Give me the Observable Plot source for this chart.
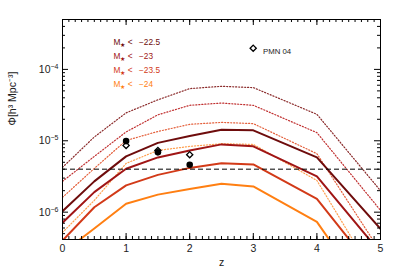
<!DOCTYPE html>
<html><head><meta charset="utf-8">
<script src="https://cdn.jsdelivr.net/npm/d3@7"></script>
<script src="https://cdn.jsdelivr.net/npm/@observablehq/plot@0.6"></script>
<style>body{margin:0;background:#fff}#chart{width:399px;height:279px}</style>
</head><body><div id="chart"></div>
<script>
// ---- data ----
const redshifts = [0, 0.5, 1, 1.5, 2, 2.5, 3, 4, 5];
const seriesLabels = ["M★ < −22.5", "M★ < −23", "M★ < −23.5", "M★ < −24"];
const seriesColors = ["#6e0c0c", "#a01515", "#d23a18", "#ff7f12"];
const dottedColors = ["#8a2a2a", "#c03030", "#e4603c", "#ffa050"];
const solid1 = [1.03e-6, 2.70e-6, 6.04e-6, 9.35e-6, 1.17e-5, 1.43e-5, 1.40e-5, 5.85e-6, 5.85e-7];
const solid2 = [7.1e-7, 1.91e-6, 4.06e-6, 5.85e-6, 7.33e-6, 8.9e-6, 8.35e-6, 3.17e-6, 2.7e-7];
const solid3 = [4.0e-7, 1.17e-6, 2.37e-6, 3.33e-6, 4.17e-6, 4.86e-6, 4.67e-6, 1.53e-6, 1.17e-7];
const solid4 = [2.7e-7, 5.9e-7, 1.31e-6, 1.76e-6, 2.11e-6, 2.5e-6, 2.29e-6, 7.3e-7, 3.9e-8];
const dotted1 = [4.24e-6, 1.13e-5, 2.46e-5, 3.75e-5, 5.38e-5, 5.8e-5, 5.56e-5, 2.35e-5, 2.0e-6];
const dotted2 = [2.7e-6, 6.04e-6, 1.33e-5, 2.31e-5, 3.14e-5, 3.38e-5, 3.14e-5, 1.30e-5, 1.06e-6];
const dotted3 = [1.61e-6, 4.1e-6, 1.01e-5, 1.35e-5, 1.70e-5, 1.81e-5, 1.74e-5, 6.59e-6, 2.8e-7];
const dotted4 = [5.2e-7, 1.46e-6, 4.82e-6, 7.33e-6, 8.34e-6, 9.1e-6, 8.9e-6, 2.78e-6, 9.4e-8];
const obsZ = [1, 1.5, 2];
const obsFilled = [9.9e-6, 6.88e-6, 4.62e-6];
const obsPMN04 = [8.62e-6, 7.3e-6, 6.38e-6];
const threshold = 4e-6;
const xTickLabels = [0, 1, 2, 3, 4, 5];
const yTickExps = [-6, -5, -4];
const pmnLabel = "PMN 04";
const xLabel = "z";
const yLabel = "Φ[h³ Mpc⁻³]";

// ---- layout ----
const W = 399, H = 279, mL = 62, mR = 19, mT = 19, mB = 40;
const pw = W - mL - mR, ph = H - mT - mB;
const solids = [solid1, solid2, solid3, solid4];
const dotteds = [dotted1, dotted2, dotted3, dotted4];
const toRows = arr => redshifts.map((z, i) => ({z, phi: arr[i]}));
const sup = s => String(s).replace(/-/g, "−").replace(/\d/g, d => d);

const xMinor = d3.range(0, 51).map(i => i / 10);
const yMinor = [];
for (let e = -7; e <= -4; e++) for (let m = 2; m <= 9; m++) { const v = m * 10 ** e; if (v > 4.14e-7 && v < 5e-4) yMinor.push(v); }
const yMajor = yTickExps.map(e => 10 ** e);

const marks = [];
dotteds.forEach((d, i) => marks.push(Plot.line(toRows(d), {x: "z", y: "phi", stroke: dottedColors[i], strokeWidth: 1.2, strokeDasharray: "1.1,1.9", clip: true})));
solids.forEach((d, i) => marks.push(Plot.line(toRows(d), {x: "z", y: "phi", stroke: seriesColors[i], strokeWidth: 2, clip: true})));
marks.push(Plot.ruleY([threshold], {stroke: "#000", strokeWidth: 1, strokeDasharray: "5,3"}));
marks.push(Plot.dot(obsZ.map((z, i) => ({z, phi: obsPMN04[i]})), {x: "z", y: "phi", symbol: "diamond2", r: 2.8, stroke: "#000", strokeWidth: 1.3, fill: "white"}));
marks.push(Plot.dot(obsZ.map((z, i) => ({z, phi: obsFilled[i]})), {x: "z", y: "phi", r: 3.3, fill: "#000"}));
// ticks (inward, IDL style)
marks.push(Plot.ruleX(xMinor, {x: d => d, insetTop: ph - 3, stroke: "#000"}));
marks.push(Plot.ruleX(xMinor, {x: d => d, insetBottom: ph - 3, stroke: "#000"}));
marks.push(Plot.ruleX(xTickLabels, {x: d => d, insetTop: ph - 6, stroke: "#000"}));
marks.push(Plot.ruleX(xTickLabels, {x: d => d, insetBottom: ph - 6, stroke: "#000"}));
marks.push(Plot.ruleY(yMinor, {y: d => d, insetRight: pw - 3, stroke: "#000"}));
marks.push(Plot.ruleY(yMinor, {y: d => d, insetLeft: pw - 3, stroke: "#000"}));
marks.push(Plot.ruleY(yMajor, {y: d => d, insetRight: pw - 6, stroke: "#000"}));
marks.push(Plot.ruleY(yMajor, {y: d => d, insetLeft: pw - 6, stroke: "#000"}));
marks.push(Plot.frame({stroke: "#000", strokeWidth: 1}));
// tick labels
marks.push(Plot.text(xTickLabels, {x: d => d, frameAnchor: "bottom", dy: 12, text: d => String(d), fontSize: 10.5, fill: "#222"}));
marks.push(Plot.text(yTickExps, {y: d => 10 ** d, frameAnchor: "left", dx: -4, textAnchor: "end", text: d => "10^" + sup(d), fontSize: 10.5, fill: "#222", className: "ylab"}));
marks.push(Plot.text([xLabel], {frameAnchor: "bottom", dy: 26, text: d => d, fontSize: 10.5, fill: "#222"}));
marks.push(Plot.text([yLabel], {frameAnchor: "left", dx: -50, dy: -4, rotate: -90, text: d => d, fontSize: 10.5, fill: "#222"}));
// legend
seriesLabels.forEach((lab, i) => marks.push(Plot.text([lab], {frameAnchor: "top-left", dx: 51, dy: 19.3 + i * 14.1, textAnchor: "start", text: d => d, fontSize: 8.3, fill: seriesColors[i]})));
marks.push(Plot.dot([0], {frameAnchor: "top-left", dx: 190.7, dy: 28.7, symbol: "diamond2", r: 2.8, stroke: "#000", strokeWidth: 1.3, fill: "white"}));
marks.push(Plot.text([pmnLabel], {frameAnchor: "top-left", dx: 200.5, dy: 28.7, textAnchor: "start", text: d => d, fontSize: 7.8, fill: "#222"}));

const chart = Plot.plot({
  width: W, height: H, marginLeft: mL, marginRight: mR, marginTop: mT, marginBottom: mB,
  style: {fontFamily: "'Liberation Sans', Arial, sans-serif", background: "white", overflow: "visible"},
  x: {domain: [0, 5], axis: null},
  y: {type: "log", domain: [4.14e-7, 5e-4], axis: null},
  marks
});
// subscript star in legend, superscript exponents on y labels
d3.select(chart).selectAll("text").each(function() {
  const t = this.textContent;
  const sel = d3.select(this);
  if (t.startsWith("M★")) {
    sel.text(null);
    sel.append("tspan").text("M");
    sel.append("tspan").attr("font-size", 5.5).attr("dy", 2).text("★");
    sel.append("tspan").attr("dy", -2).attr("xml:space", "preserve").text(" " + t.slice(2).trim().replace("<", "<\u2002"));
  } else if (t.startsWith("10^")) {
    sel.text(null);
    sel.append("tspan").text("10");
    sel.append("tspan").attr("font-size", 7).attr("dy", -4).text(t.slice(3));
  }
});
document.getElementById("chart").appendChild(chart);
</script></body></html>
